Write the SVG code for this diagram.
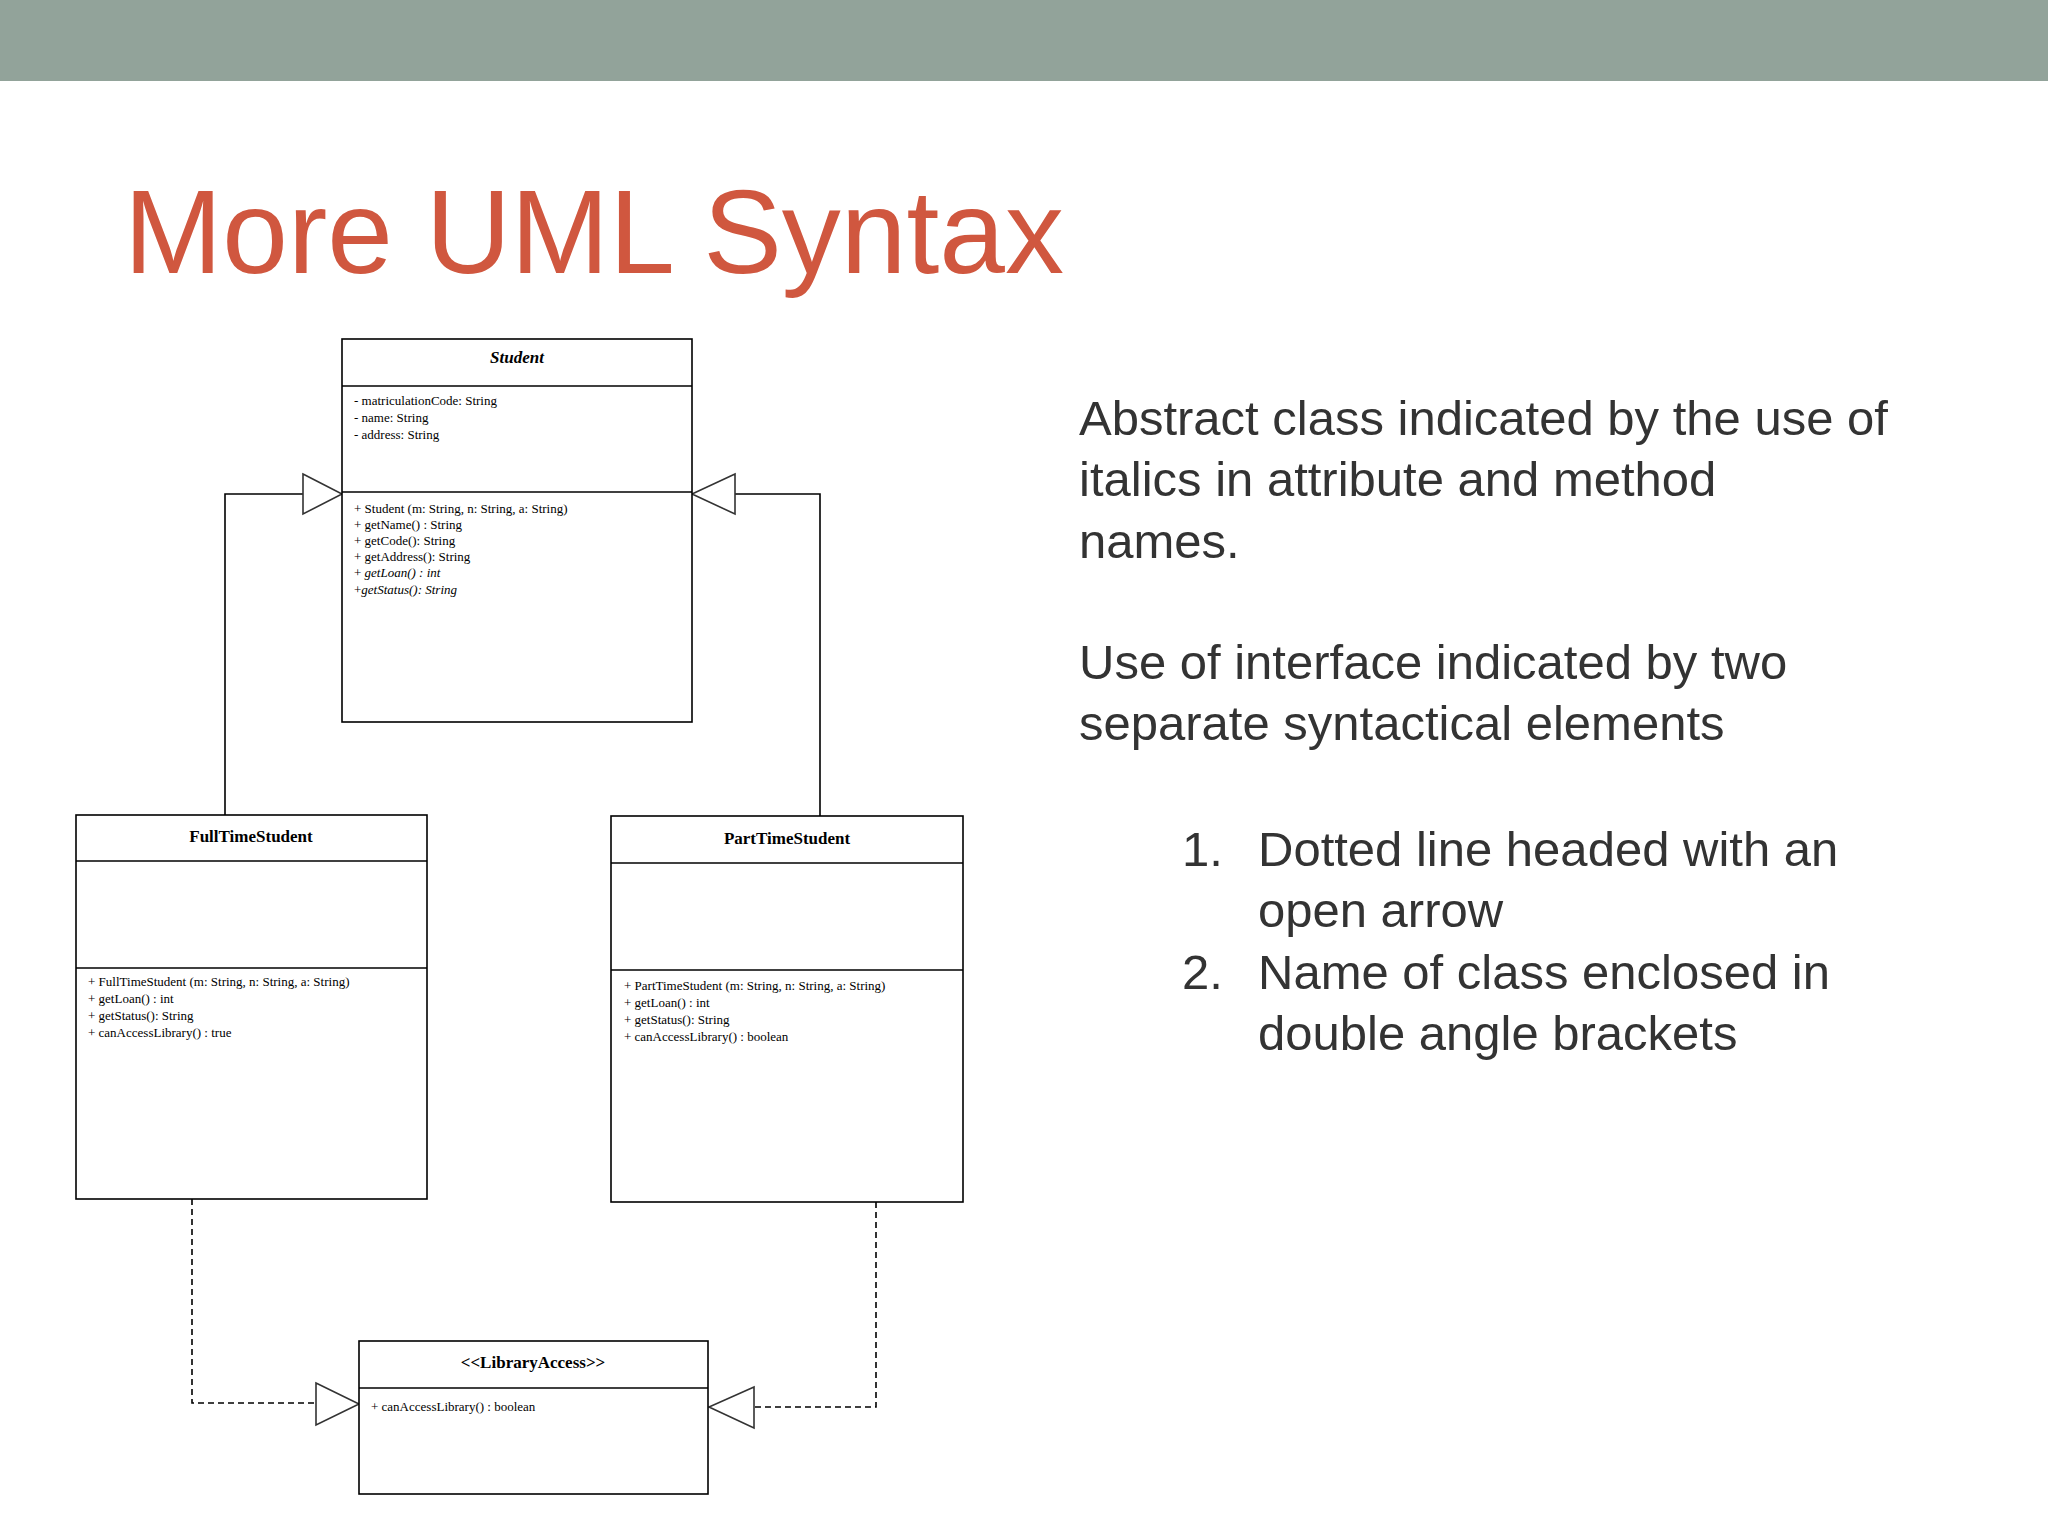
<svg xmlns="http://www.w3.org/2000/svg" width="2048" height="1536" viewBox="0 0 2048 1536">
<style>
.box{fill:#fff;stroke:#000;stroke-width:1.6}
.ln{stroke:#000;stroke-width:1.6;fill:none}
.dash{stroke:#000;stroke-width:1.6;fill:none;stroke-dasharray:6,4}
.tri{fill:#fff;stroke:#333;stroke-width:1.6}
.t{font-family:"Liberation Serif",serif;font-size:17px;font-weight:bold;text-anchor:middle}
.m{font-family:"Liberation Serif",serif;font-size:13px}
.b{font-family:"Liberation Sans",Arial,sans-serif;font-size:49px;fill:#333}
</style>
<rect x="0" y="0" width="2048" height="81" fill="#92A39A"/>
<text x="124" y="273" font-family="Liberation Sans, Arial, sans-serif" font-size="118" fill="#D0573F">More UML Syntax</text>

<g id="connectors">
<polyline class="ln" points="225,815 225,494 303,494"/>
<polygon class="tri" points="303,474 342,494 303,514"/>
<polyline class="ln" points="820,816 820,494 735,494"/>
<polygon class="tri" points="735,474 692,494 735,514"/>
<polyline class="dash" points="192,1199 192,1403 316,1403"/>
<polygon class="tri" points="316,1383 359,1404 316,1425"/>
<polyline class="dash" points="876,1202 876,1407 754,1407"/>
<polygon class="tri" points="754,1387 709,1407 754,1428"/>
</g>

<g id="Student">
<rect class="box" x="342" y="339" width="350" height="383"/>
<line class="ln" x1="342" y1="386" x2="692" y2="386"/>
<line class="ln" x1="342" y1="492" x2="692" y2="492"/>
<text class="t" x="517" y="363" font-style="italic">Student</text>
<text class="m" x="354" y="405">- matriculationCode: String</text>
<text class="m" x="354" y="422">- name: String</text>
<text class="m" x="354" y="439">- address: String</text>
<text class="m" x="354" y="513">+ Student (m: String, n: String, a: String)</text>
<text class="m" x="354" y="529">+ getName() : String</text>
<text class="m" x="354" y="545">+ getCode(): String</text>
<text class="m" x="354" y="561">+ getAddress(): String</text>
<text class="m" x="354" y="577">+ <tspan font-style="italic">getLoan() : int</tspan></text>
<text class="m" x="354" y="594">+<tspan font-style="italic">getStatus(): String</tspan></text>
</g>

<g id="FullTimeStudent">
<rect class="box" x="76" y="815" width="351" height="384"/>
<line class="ln" x1="76" y1="861" x2="427" y2="861"/>
<line class="ln" x1="76" y1="968" x2="427" y2="968"/>
<text class="t" x="251" y="842">FullTimeStudent</text>
<text class="m" x="88" y="986">+ FullTimeStudent (m: String, n: String, a: String)</text>
<text class="m" x="88" y="1003">+ getLoan() : int</text>
<text class="m" x="88" y="1020">+ getStatus(): String</text>
<text class="m" x="88" y="1037">+ canAccessLibrary() : true</text>
</g>

<g id="PartTimeStudent">
<rect class="box" x="611" y="816" width="352" height="386"/>
<line class="ln" x1="611" y1="863" x2="963" y2="863"/>
<line class="ln" x1="611" y1="970" x2="963" y2="970"/>
<text class="t" x="787" y="844">PartTimeStudent</text>
<text class="m" x="624" y="990">+ PartTimeStudent (m: String, n: String, a: String)</text>
<text class="m" x="624" y="1007">+ getLoan() : int</text>
<text class="m" x="624" y="1024">+ getStatus(): String</text>
<text class="m" x="624" y="1041">+ canAccessLibrary() : boolean</text>
</g>

<g id="LibraryAccess">
<rect class="box" x="359" y="1341" width="349" height="153"/>
<line class="ln" x1="359" y1="1388" x2="708" y2="1388"/>
<text class="t" x="533" y="1368" font-weight="normal">&lt;&lt;LibraryAccess&gt;&gt;</text>
<text class="m" x="371" y="1411">+ canAccessLibrary() : boolean</text>
</g>

<g id="notes">
<text class="b" x="1079" y="435">Abstract class indicated by the use of</text>
<text class="b" x="1079" y="496">italics in attribute and method</text>
<text class="b" x="1079" y="558">names.</text>
<text class="b" x="1079" y="679">Use of interface indicated by two</text>
<text class="b" x="1079" y="740">separate syntactical elements</text>
<text class="b" x="1182" y="866">1.</text>
<text class="b" x="1258" y="866">Dotted line headed with an</text>
<text class="b" x="1258" y="927">open arrow</text>
<text class="b" x="1182" y="989">2.</text>
<text class="b" x="1258" y="989">Name of class enclosed in</text>
<text class="b" x="1258" y="1050">double angle brackets</text>
</g>
</svg>
